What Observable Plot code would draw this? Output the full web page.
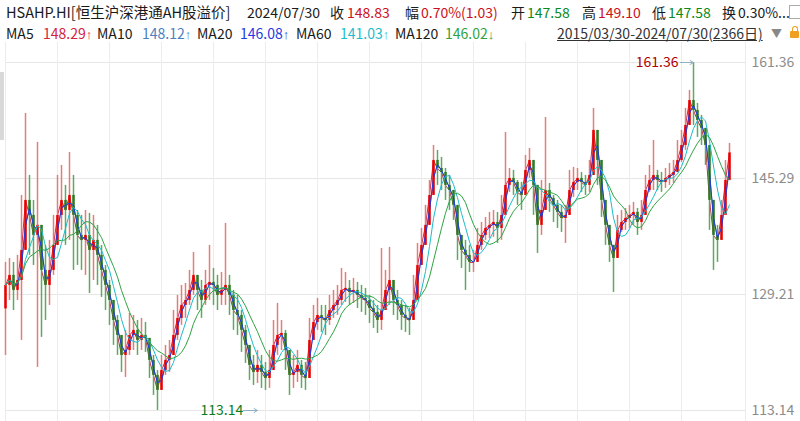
<!DOCTYPE html>
<html><head><meta charset="utf-8">
<script src="https://cdn.jsdelivr.net/npm/d3@7"></script>
<script src="https://cdn.jsdelivr.net/npm/@observablehq/plot@0.6"></script>
<style>
body{margin:0;background:#fff;font-family:"Noto Sans CJK SC","Noto Sans",sans-serif;}
#wrap{position:relative;width:800px;height:421px;overflow:hidden;background:#fff;}
.t{position:absolute;font-size:14px;line-height:20px;white-space:nowrap;color:#1a1a1a;}
.ar{font-family:"Liberation Sans","DejaVu Sans",sans-serif;font-size:13px;}
#chart{position:absolute;left:0;top:42px;}
</style></head>
<body><div id="wrap"><div id="hdr"></div><div id="chart"></div></div>
<script>
// ---- data (sampled ~every 13 trading days, 2015/03/30 - 2024/07/30) ----
const close = [130.47,131.86,129.78,131.16,135.32,142.25,140.17,137.40,138.79,132.55,
130.47,132.55,136.02,140.17,142.25,140.86,142.94,140.17,137.40,136.71,
137.40,135.32,136.71,134.63,132.55,130.47,128.39,125.62,123.54,120.77,
121.46,123.54,124.24,122.85,123.54,123.13,120.08,118.00,115.92,118.69,
120.08,120.77,123.54,125.90,127.70,128.39,129.78,131.86,129.78,128.39,
130.47,130.89,130.47,129.09,129.78,130.47,129.09,127.00,126.31,124.24,
122.16,119.39,118.42,119.39,118.42,117.58,118.69,122.16,123.54,123.82,
121.46,118.00,118.42,119.39,118.00,117.58,122.85,125.34,126.31,125.90,
125.62,127.00,127.70,128.39,129.78,130.06,129.50,129.78,129.09,128.67,
128.39,127.28,126.73,125.62,127.00,129.78,131.16,128.39,127.70,126.31,
125.90,125.62,128.39,133.24,136.02,138.79,142.94,147.79,146.68,146.13,
144.33,143.63,141.56,137.40,135.32,134.63,133.66,133.66,136.02,137.40,
138.37,138.79,139.20,138.37,140.17,144.33,145.30,144.74,143.36,142.94,
146.41,147.79,144.33,138.79,140.86,143.63,142.53,141.56,140.59,139.75,
140.17,143.63,144.74,145.30,144.74,144.33,145.71,151.95,147.79,142.25,
138.79,136.02,134.21,138.10,139.20,139.75,140.17,140.59,139.20,140.17,
143.63,145.02,145.71,145.02,144.74,145.30,145.71,146.13,147.79,149.87,
152.64,156.10,154.72,153.33,152.23,149.87,142.25,137.40,136.71,140.17,
145.02,148.83];
const high = [133.66,134.21,133.66,134.63,142.94,154.30,145.71,142.25,150.28,137.40,
136.02,136.71,140.17,145.71,147.10,144.33,148.90,145.71,140.86,140.17,
140.86,140.45,140.17,138.79,136.02,133.24,131.16,127.70,126.31,123.54,
124.24,126.59,126.31,125.62,125.90,125.34,122.16,120.77,118.69,120.77,
122.16,122.85,127.00,129.09,130.47,130.75,132.55,135.04,131.86,131.16,
132.55,136.02,132.83,131.86,132.27,139.06,131.86,129.78,129.09,127.00,
124.93,122.16,120.77,121.46,120.77,119.80,121.46,125.62,127.98,125.62,
124.24,120.77,120.77,121.46,120.08,119.80,125.90,127.70,128.67,127.70,
127.70,129.09,129.78,130.47,132.83,132.27,131.16,131.44,130.89,130.47,
130.06,129.09,128.39,127.70,135.60,132.55,135.74,130.47,129.78,128.39,
127.70,127.28,131.86,136.29,138.37,141.56,145.02,149.87,149.18,148.21,
146.68,145.71,143.63,140.17,137.40,136.71,136.02,135.32,138.37,139.20,
139.89,140.59,140.86,140.59,142.94,151.67,146.68,146.41,145.02,144.74,
148.48,149.45,147.10,141.56,145.02,153.75,144.60,142.94,142.25,141.56,
141.56,146.41,146.82,146.68,146.13,145.71,147.79,155.00,151.25,144.33,
140.86,138.79,135.60,140.17,140.86,141.14,141.56,141.97,141.14,142.25,
145.71,147.10,150.56,146.41,146.13,146.68,147.38,147.79,150.56,151.95,
155.00,157.49,161.36,155.69,154.03,151.95,145.71,140.17,138.79,142.25,
147.79,150.15];
const low = [120.77,128.39,127.00,128.39,122.85,136.71,134.63,133.24,119.11,123.27,
125.62,127.70,131.86,136.71,138.10,136.02,136.71,132.55,133.24,132.55,
131.86,129.36,131.16,130.47,128.81,127.00,124.93,122.16,120.77,118.42,
117.72,120.77,121.46,120.77,121.46,121.19,117.58,115.23,113.14,116.61,
118.00,118.42,121.46,122.85,124.93,125.90,127.70,129.09,127.00,125.90,
127.70,128.39,127.70,127.00,127.70,127.70,126.31,124.24,123.54,121.19,
119.66,117.31,116.61,116.89,116.20,115.92,116.20,119.80,120.77,121.46,
118.69,115.23,116.20,117.03,116.20,115.92,119.39,122.85,124.24,123.96,
123.54,124.93,125.90,126.31,127.70,128.12,127.70,127.98,127.28,126.73,
126.31,125.21,124.51,123.82,124.24,127.00,127.70,126.31,125.62,124.24,
123.96,123.54,125.90,130.47,133.66,136.02,140.17,145.02,144.33,143.63,
142.25,140.86,139.48,133.94,132.83,129.78,132.27,132.27,133.66,135.32,
136.71,136.99,137.13,136.29,136.71,141.56,143.36,142.94,141.56,140.86,
144.33,145.30,140.17,134.91,137.40,140.86,140.59,139.20,138.37,137.82,
136.29,141.56,142.66,143.63,143.36,142.94,143.36,149.18,144.33,139.89,
136.02,133.66,129.50,136.02,137.82,138.10,138.37,138.79,137.40,138.10,
141.56,143.36,143.63,143.63,143.36,143.91,144.33,144.60,146.13,147.51,
149.18,152.64,152.64,150.98,149.87,147.10,138.10,132.55,133.66,137.40,
142.25,147.10];
const yTicks = [113.14, 129.21, 145.29, 161.36];
const maNames = ["MA5", "MA10", "MA20", "MA60", "MA120"];
const maValues = ["148.29", "148.12", "146.08", "141.03", "146.02"];
const maArrows = ["↑", "↑", "↑", "↑", "↓"];
const maColors = ["#d4233f", "#4b7fc0", "#1f3be0", "#1dbccc", "#2fa343"];
const maWindow = [1, 2, 2, 5, 9]; // window in samples
const quote = {code:"HSAHP.HI[恒生沪深港通AH股溢价]", date:"2024/07/30", close:"148.83", chg:"0.70%(1.03)", open:"147.58", high:"149.10", low:"147.58", turn:"0.30%...", range:"2015/03/30-2024/07/30(2366日)"};

// ---- header ----
const RED = "#cc1020", GREEN = "#0a8a1a", INK = "#1a1a1a";
const row1 = [
  [6, quote.code, INK], [247, quote.date, INK], [330, "收", INK], [347, quote.close, RED],
  [405, "幅", INK], [421, quote.chg, RED], [511, "开", INK], [527, quote.open, GREEN],
  [582, "高", INK], [598, quote.high, RED], [652, "低", INK], [668, quote.low, GREEN],
  [722, "换", INK], [738, quote.turn, INK]
];
const maLeft = [[6,43],[97,142],[197,240],[296,340],[395,445]];
const hdr = document.getElementById("hdr");
function addT(left, top, txt, color, extra){
  const s = document.createElement("span"); s.className = "t";
  s.style.left = left + "px"; s.style.top = top + "px"; s.style.color = color; s.textContent = txt;
  if (extra) Object.assign(s.style, extra);
  hdr.appendChild(s); return s;
}
row1.forEach(([l, t, c]) => addT(l, 2, t, c, l === 6 ? {fontSize: "14.5px"} : null));
maNames.forEach((n, k) => {
  addT(maLeft[k][0], 23, n, INK);
  const s = addT(maLeft[k][1], 23, maValues[k], maColors[k]);
  const a = document.createElement("span"); a.className = "ar"; a.textContent = maArrows[k]; s.appendChild(a);
});
addT(557, 23, quote.range, "#333", {textDecoration: "underline"});
addT(771, 23, "▼", "#888", {fontSize: "11px"});
// small UI icons
const ic = document.createElement("div");
Object.assign(ic.style,{position:"absolute",left:"789px",top:"5px",width:"10px",height:"12px",border:"1px solid #aaa",background:"#fff"});
hdr.appendChild(ic);
const lk = document.createElement("div");
Object.assign(lk.style,{position:"absolute",left:"790px",top:"31px",width:"9px",height:"7px",background:"#f0a020",borderRadius:"1px"});
hdr.appendChild(lk);
const lk2 = document.createElement("div");
Object.assign(lk2.style,{position:"absolute",left:"792px",top:"26px",width:"4px",height:"5px",border:"1px solid #f0a020",borderBottom:"none",borderRadius:"3px 3px 0 0"});
hdr.appendChild(lk2);
const tab = document.createElement("div");
Object.assign(tab.style,{position:"absolute",left:"0px",top:"72px",width:"4px",height:"68px",background:"#d9d9d9"});
hdr.appendChild(tab);

// ---- chart ----
const data = close.map((c, i) => {
  const o = i ? close[i - 1] : (high[i] + low[i]) / 2;
  return {i, open: o, close: c, high: Math.max(high[i], o, c), low: Math.min(low[i], o, c), up: c >= o};
});
const xGrid = d3.range(0, 170, 13).concat([185]);
const iMax = d3.maxIndex(high), iMin = d3.minIndex(low);

const maMarks = maNames.map((n, k) =>
  Plot.lineY(data, Plot.windowY({k: maWindow[k], anchor: "end"}, {x: "i", y: "close", stroke: maColors[k], strokeWidth: 1}))
);

const chart = Plot.plot({
  width: 800, height: 379,
  marginLeft: 5, marginRight: 55, marginTop: 20, marginBottom: 11,
  x: {domain: [0, 185], axis: null},
  y: {domain: [113.14, 161.36], axis: null},
  style: {fontFamily: '"Noto Sans CJK SC","Noto Sans",sans-serif', fontSize: "14px", background: "transparent", overflow: "visible"},
  marks: [
    Plot.ruleY(yTicks, {y: d => d, stroke: "#e6e6e6"}),
    Plot.ruleX(xGrid, {x: d => d, stroke: "#ececec", insetTop: -20, insetBottom: -11}),
    Plot.text(yTicks, {y: d => d, frameAnchor: "right", dx: 6, textAnchor: "start", text: d => d.toFixed(2), fill: "#8c8c8c"}),
    maMarks[0], maMarks[1],
    Plot.ruleX(data, {x: "i", y1: "low", y2: "high", stroke: d => d.up ? "#e77b7b" : "#5fa85f", strokeWidth: 1.5}),
    Plot.ruleX(data, {x: "i", y1: "open", y2: "close", stroke: d => d.up ? "#e80000" : "#2e7a24", strokeWidth: 2.5}),
    maMarks[2], maMarks[3], maMarks[4],
    Plot.text([iMax], {x: d => d, y: d => high[d], text: d => high[d].toFixed(2), textAnchor: "end", dx: -15, fill: "#b00000"}),
    Plot.arrow([iMax], {x1: d => d - 3.3, x2: d => d, y1: d => high[d], y2: d => high[d], stroke: "#8fb0c4", strokeWidth: 1, headLength: 6}),
    Plot.text([iMin], {x: d => d, y: d => low[d], text: d => low[d].toFixed(2), textAnchor: "start", dx: 43, fill: "#0a7d1a"}),
    Plot.arrow([iMin], {x1: d => d + 21.5, x2: d => d + 25, y1: d => low[d], y2: d => low[d], stroke: "#8fb0c4", strokeWidth: 1, headLength: 6})
  ]
});
document.getElementById("chart").appendChild(chart);
</script>
</body></html>
